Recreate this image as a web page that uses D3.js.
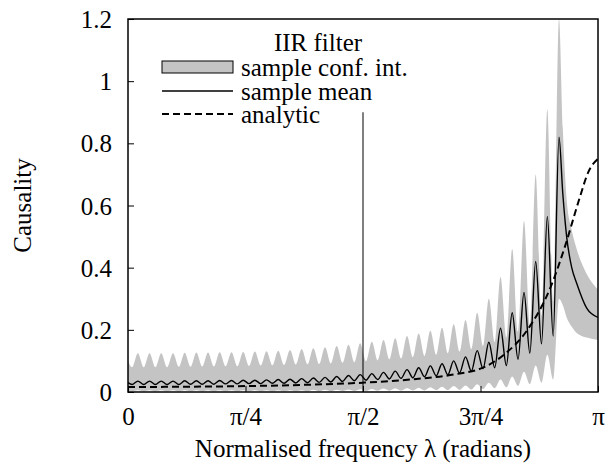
<!DOCTYPE html>
<html>
<head>
<meta charset="utf-8">
<script src="https://cdn.jsdelivr.net/npm/d3@7"></script>
<style>
  body { margin: 0; background: #fff; }
  svg text { font-family: "Liberation Serif", "Times New Roman", Tinos, Times, "DejaVu Serif", "Noto Serif", serif !important; fill: #000; }
</style>
</head>
<body>
<svg width="608" height="472"></svg>
<script>
// frequency grid (radians): alternating peaks / troughs of the ripple
const lambda = [0, 0.027,
  0.066, 0.105, 0.144, 0.183, 0.222, 0.261, 0.301, 0.340, 0.379, 0.418,
  0.457, 0.496, 0.535, 0.574, 0.613, 0.652, 0.692, 0.731, 0.770, 0.809,
  0.848, 0.887, 0.926, 0.965, 1.004, 1.043, 1.083, 1.122, 1.161, 1.200,
  1.239, 1.278, 1.317, 1.356, 1.395, 1.434, 1.474, 1.513, 1.552, 1.591,
  1.630, 1.669, 1.708, 1.747, 1.786, 1.825, 1.865, 1.904, 1.943, 1.982,
  2.021, 2.060, 2.099, 2.138, 2.177, 2.216, 2.256, 2.295, 2.334, 2.373,
  2.412, 2.451, 2.490, 2.529, 2.568, 2.607, 2.647, 2.686, 2.725, 2.764,
  2.803, 2.842,
  2.881, 2.906, 2.932, 2.966, 2.999, 3.066, 3.1416];

const sampleMean = [0.030, 0.024,
  0.035, 0.024, 0.035, 0.024, 0.035, 0.024, 0.035, 0.024, 0.036, 0.025,
  0.036, 0.025, 0.036, 0.025, 0.037, 0.026, 0.037, 0.026, 0.038, 0.027,
  0.038, 0.027, 0.039, 0.028, 0.040, 0.028, 0.041, 0.029, 0.043, 0.030,
  0.045, 0.031, 0.047, 0.032, 0.050, 0.034, 0.053, 0.036, 0.056, 0.038,
  0.059, 0.040, 0.063, 0.042, 0.067, 0.044, 0.072, 0.046, 0.078, 0.049,
  0.084, 0.052, 0.091, 0.056, 0.100, 0.061, 0.113, 0.067, 0.133, 0.075,
  0.160, 0.078, 0.205, 0.085, 0.255, 0.105, 0.320, 0.125, 0.420, 0.155,
  0.565, 0.180,
  0.820, 0.640, 0.500, 0.400, 0.350, 0.270, 0.240];

const confHigh = [0.100, 0.080,
  0.125, 0.080, 0.125, 0.080, 0.125, 0.080, 0.125, 0.081, 0.126, 0.081,
  0.127, 0.082, 0.127, 0.082, 0.128, 0.083, 0.128, 0.083, 0.129, 0.084,
  0.130, 0.085, 0.131, 0.086, 0.133, 0.087, 0.135, 0.088, 0.138, 0.089,
  0.141, 0.090, 0.144, 0.092, 0.148, 0.094, 0.152, 0.096, 0.157, 0.099,
  0.162, 0.102, 0.167, 0.105, 0.173, 0.108, 0.180, 0.112, 0.188, 0.116,
  0.197, 0.120, 0.207, 0.125, 0.218, 0.130, 0.232, 0.138, 0.255, 0.148,
  0.300, 0.160, 0.370, 0.175, 0.460, 0.195, 0.550, 0.215, 0.700, 0.245,
  0.910, 0.290,
  1.200, 0.850, 0.620, 0.520, 0.460, 0.380, 0.330];

const confLow = [0.002, 0.002,
  0.006, 0.002, 0.006, 0.002, 0.006, 0.002, 0.006, 0.002, 0.006, 0.002,
  0.006, 0.002, 0.006, 0.002, 0.006, 0.002, 0.006, 0.002, 0.006, 0.002,
  0.006, 0.002, 0.006, 0.002, 0.006, 0.002, 0.006, 0.002, 0.006, 0.002,
  0.007, 0.002, 0.007, 0.002, 0.007, 0.003, 0.008, 0.003, 0.009, 0.003,
  0.010, 0.004, 0.011, 0.004, 0.012, 0.004, 0.013, 0.005, 0.014, 0.005,
  0.015, 0.006, 0.017, 0.006, 0.019, 0.007, 0.021, 0.008, 0.025, 0.010,
  0.030, 0.012, 0.040, 0.015, 0.050, 0.020, 0.065, 0.025, 0.085, 0.030,
  0.120, 0.040,
  0.300, 0.280, 0.240, 0.210, 0.190, 0.175, 0.167];

const analyticLambda = [0, 0.393, 0.785, 1.178, 1.571, 1.885, 2.199, 2.356,
  2.513, 2.670, 2.827, 2.922, 3.016, 3.079, 3.1416];
const analyticVals = [0.016, 0.017, 0.019, 0.023, 0.030, 0.040, 0.058, 0.075,
  0.120, 0.200, 0.340, 0.470, 0.620, 0.710, 0.750];

const xTickVals = [0, Math.PI / 4, Math.PI / 2, 3 * Math.PI / 4, Math.PI];
const xTickLabels = ["0", "π/4", "π/2", "3π/4", "π"];
const yTickVals = [0, 0.2, 0.4, 0.6, 0.8, 1, 1.2];
const yTickLabels = ["0", "0.2", "0.4", "0.6", "0.8", "1", "1.2"];
const legendTitle = "IIR filter";
const legendLabels = ["sample conf. int.", "sample mean", "analytic"];
const markerLambda = Math.PI / 2;
const markerTop = 0.9;

const margin = { top: 19, right: 10, bottom: 80, left: 128 };
const width = 608 - margin.left - margin.right;
const height = 472 - margin.top - margin.bottom;
const grey = "#c4c4c4";
const serif = '"Liberation Serif", "Times New Roman", Tinos, Times, "DejaVu Serif", "Noto Serif", serif';

const svg = d3.select("svg");
const g = svg.append("g").attr("transform", `translate(${margin.left},${margin.top})`);

const x = d3.scaleLinear().domain([0, Math.PI]).range([0, width]);
const y = d3.scaleLinear().domain([0, 1.2]).range([height, 0]);

g.append("clipPath").attr("id", "plot-clip")
  .append("rect").attr("width", width).attr("height", height);

const rows = lambda.map((l, i) => ({ l, mean: sampleMean[i], lo: confLow[i], hi: confHigh[i] }));
const analytic = analyticLambda.map((l, i) => ({ l, v: analyticVals[i] }));

const plot = g.append("g").attr("clip-path", "url(#plot-clip)");

plot.append("path")
  .datum(rows)
  .attr("fill", grey)
  .attr("d", d3.area().curve(d3.curveMonotoneX).x(d => x(d.l)).y0(d => y(d.lo)).y1(d => y(d.hi)));

plot.append("path")
  .datum(rows)
  .attr("fill", "none")
  .attr("stroke", "#000")
  .attr("stroke-width", 1.4)
  .attr("d", d3.line().curve(d3.curveMonotoneX).x(d => x(d.l)).y(d => y(d.mean)));

plot.append("path")
  .datum(analytic)
  .attr("fill", "none")
  .attr("stroke", "#000")
  .attr("stroke-width", 2)
  .attr("stroke-dasharray", "7,4")
  .attr("d", d3.line().curve(d3.curveMonotoneX).x(d => x(d.l)).y(d => y(d.v)));

g.append("line")
  .attr("x1", x(markerLambda)).attr("x2", x(markerLambda))
  .attr("y1", y(0)).attr("y2", y(markerTop))
  .attr("stroke", "#000").attr("stroke-width", 1);

// axes, ticks point inwards
const xAxis = g.append("g")
  .attr("transform", `translate(0,${height})`)
  .call(d3.axisBottom(x).tickValues(xTickVals)
    .tickFormat((d, i) => xTickLabels[i]).tickSizeInner(-6).tickSizeOuter(0).tickPadding(15));

const yAxis = g.append("g")
  .call(d3.axisLeft(y).tickValues(yTickVals)
    .tickFormat((d, i) => yTickLabels[i]).tickSizeInner(-6).tickSizeOuter(0).tickPadding(16));

[xAxis, yAxis].forEach(a => {
  a.attr("font-family", null);
  a.select(".domain").remove();
  a.selectAll("text").attr("font-size", 25).style("font-family", serif);
  a.selectAll("line").attr("stroke", "#000");
});
yAxis.selectAll("text").attr("dy", "0.34em");

g.append("rect")
  .attr("width", width).attr("height", height)
  .attr("fill", "none").attr("stroke", "#000").attr("stroke-width", 1.5);

svg.append("text")
  .attr("x", margin.left + width / 2)
  .attr("y", 457)
  .attr("text-anchor", "middle")
  .attr("font-size", 25)
  .style("font-family", serif)
  .text("Normalised frequency λ (radians)");

svg.append("text")
  .attr("transform", `translate(31,${margin.top + height / 2}) rotate(-90)`)
  .attr("text-anchor", "middle")
  .attr("font-size", 25)
  .style("font-family", serif)
  .text("Causality");

// legend
const legend = svg.append("g");
legend.append("text")
  .attr("x", 318).attr("y", 51)
  .attr("text-anchor", "middle")
  .attr("font-size", 25)
  .style("font-family", serif)
  .text(legendTitle);

const rowY = [67, 91, 114];
legend.append("rect")
  .attr("x", 162).attr("y", rowY[0] - 6).attr("width", 71).attr("height", 12)
  .attr("fill", grey).attr("stroke", "#000").attr("stroke-width", 1);
legend.append("line")
  .attr("x1", 162).attr("x2", 233).attr("y1", rowY[1]).attr("y2", rowY[1])
  .attr("stroke", "#000").attr("stroke-width", 1.4);
legend.append("line")
  .attr("x1", 162).attr("x2", 233).attr("y1", rowY[2]).attr("y2", rowY[2])
  .attr("stroke", "#000").attr("stroke-width", 2).attr("stroke-dasharray", "7,4");

legend.selectAll("text.item")
  .data(legendLabels)
  .enter()
  .append("text")
  .attr("class", "item")
  .attr("x", 241)
  .attr("y", (d, i) => rowY[i])
  .attr("dy", "0.35em")
  .attr("font-size", 25)
  .style("font-family", serif)
  .text(d => d);
</script>
</body>
</html>
